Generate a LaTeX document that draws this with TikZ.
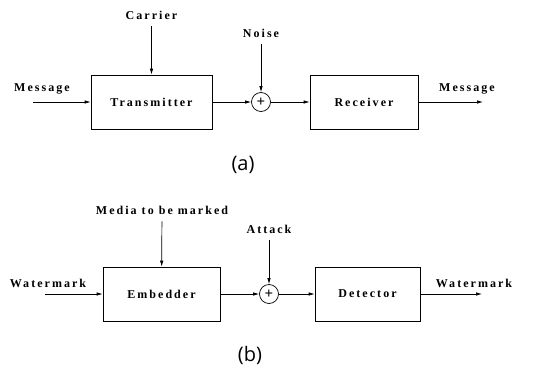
\documentclass[tikz,border=0pt]{standalone}
\usepackage{fontspec}
\setmainfont{Liberation Serif}
\newfontfamily\capfont{Open Sans}
\usetikzlibrary{positioning}
\usetikzlibrary{arrows.meta}

\tikzset{
  block/.style={draw, line width=0.7pt, minimum height=54pt, inner sep=0pt},
  adder/.style={draw, circle, line width=0.7pt, minimum size=19pt, inner sep=0pt, font=\fontsize{15}{15}\selectfont\bfseries},
  lbl/.style={font=\fontsize{12}{14}\selectfont\bfseries\addfontfeature{LetterSpace=17}, inner sep=2pt},
  caption/.style={font=\capfont\fontsize{20}{24}\selectfont},
  sig/.style={-{Latex[length=6pt,width=3.5pt]}, line width=0.7pt},
  feed/.style={sig, shorten <=5pt},
}

\begin{document}
\begin{tikzpicture}[x=1pt,y=-1pt]
\useasboundingbox (0,0) rectangle (541,375);
% (a) transmitter, channel, receiver
\node[block, minimum width=121pt, lbl] (tx) at (151.5,102) {Transmitter};
\node[block, minimum width=108pt, lbl] (rx) at (364,102) {Receiver};
\node[adder] (chan) at (261,102) {+};
\node[lbl] (carrier) at (151.5,15) {Carrier};
\node[lbl] (noise) at (261,33) {Noise};
\node[lbl] (msgin) at (42,89) {Message};
\node[lbl] (msgout) at (467,89) {Message};
\coordinate (msgstart) at (33,102);
\coordinate (msgend) at (483,102);
\draw[sig] (msgstart) -- (tx);
\draw[feed] (carrier) -- (tx);
\draw[sig] (tx) -- (chan);
\draw[feed] (noise) -- (chan);
\draw[sig] (chan) -- (rx);
\draw[sig] (rx) -- (msgend);
\node[caption] (capa) at (243,165) {(a)};
% (b) embedder, attack, detector
\node[block, minimum width=117pt, lbl] (emb) at (161.5,294) {Embedder};
\node[block, minimum width=105pt, lbl] (det) at (367.5,294) {Detector};
\node[adder] (att) at (269,294) {+};
\node[lbl] (media) at (162,210) {Media to be marked};
\node[lbl] (attack) at (269,229) {Attack};
\node[lbl] (wmin) at (48,283) {Watermark};
\node[lbl] (wmout) at (474,283) {Watermark};
\coordinate (wmstart) at (45,294);
\coordinate (wmend) at (482,294);
\draw[sig] (wmstart) -- (emb);
\draw[feed] (media) -- (emb);
\draw[sig] (emb) -- (att);
\draw[feed] (attack) -- (att);
\draw[sig] (att) -- (det);
\draw[sig] (det) -- (wmend);
\node[caption] (capb) at (250,355) {(b)};
\end{tikzpicture}
\end{document}
